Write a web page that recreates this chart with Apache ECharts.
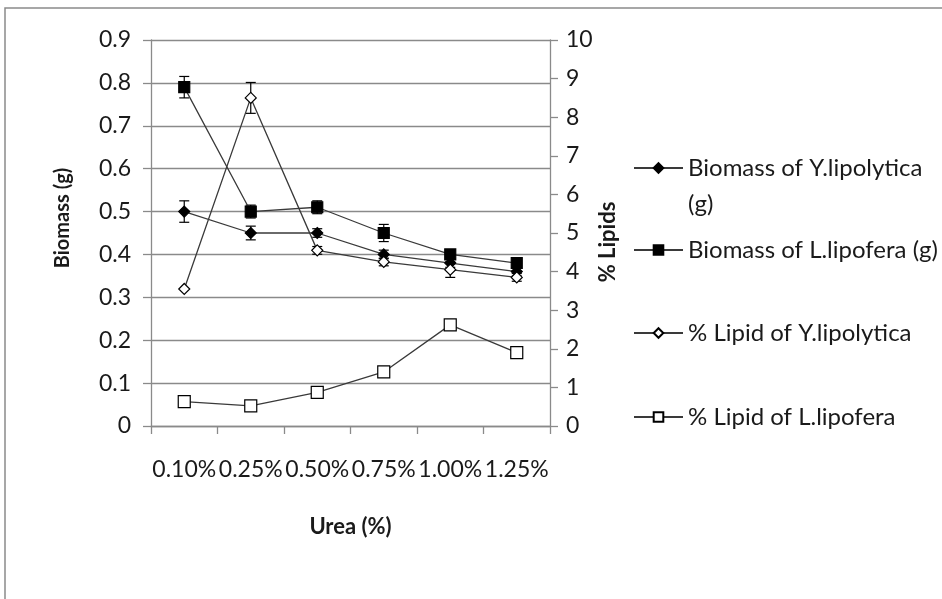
<!DOCTYPE html>
<html>
<head>
<meta charset="utf-8">
<title>Biomass and lipid content vs urea</title>
<script src="https://cdn.jsdelivr.net/npm/echarts@6/dist/echarts.min.js"></script>
<style>
  html, body { margin: 0; padding: 0; background: #ffffff; }
  #chart { width: 942px; height: 599px; }
</style>
</head>
<body>
<div id="chart"></div>
<script>
// Urea concentrations on the x axis
const categories = ['0.10%', '0.25%', '0.50%', '0.75%', '1.00%', '1.25%'];

// Biomass (g), left axis
const biomassY = [0.50, 0.45, 0.45, 0.40, 0.38, 0.36];
const biomassYErr = [0.025, 0.016, 0.01, 0.01, 0.01, 0.01];
const biomassL = [0.79, 0.50, 0.51, 0.45, 0.40, 0.38];
const biomassLErr = [0.025, 0.015, 0.015, 0.02, 0.01, 0.01];

// % lipids, right axis
const lipidY = [3.55, 8.5, 4.55, 4.25, 4.05, 3.85];
const lipidYErr = [0, 0.4, 0.1, 0.1, 0.2, 0.1];
const lipidL = [0.63, 0.52, 0.87, 1.40, 2.62, 1.90];

const seriesNames = [
  'Biomass of Y.lipolytica (g)',
  'Biomass of L.lipofera (g)',
  '% Lipid of Y.lipolytica',
  '% Lipid of L.lipofera'
];

const FONT = 'Lato';
const TEXT_COLOR = '#1a1a1a';
const GRID_COLOR = '#8a8a8a';
const LINE_COLOR = '#3a3a3a';

function errorBars(values, errs, yAxisIndex) {
  const data = values.map((v, i) => [i, v - errs[i], v + errs[i], errs[i]]);
  return {
    type: 'custom',
    yAxisIndex: yAxisIndex,
    silent: true,
    z: 1,
    encode: { x: 0, y: [1, 2] },
    data: data,
    renderItem: function (params, api) {
      if (!api.value(3)) return null;
      const idx = api.value(0);
      const lo = api.coord([idx, api.value(1)]);
      const hi = api.coord([idx, api.value(2)]);
      const hw = 5;
      const style = { stroke: '#000', lineWidth: 1.2 };
      return {
        type: 'group',
        children: [
          { type: 'line', shape: { x1: lo[0], y1: lo[1], x2: hi[0], y2: hi[1] }, style: style },
          { type: 'line', shape: { x1: hi[0] - hw, y1: hi[1], x2: hi[0] + hw, y2: hi[1] }, style: style },
          { type: 'line', shape: { x1: lo[0] - hw, y1: lo[1], x2: lo[0] + hw, y2: lo[1] }, style: style }
        ]
      };
    }
  };
}

function lineSeries(name, data, yAxisIndex, symbol, size, fill) {
  return {
    name: name,
    type: 'line',
    yAxisIndex: yAxisIndex,
    data: data,
    symbol: symbol,
    symbolSize: size,
    showAllSymbol: true,
    z: 3,
    lineStyle: { color: LINE_COLOR, width: 1.3 },
    itemStyle: { color: fill, borderColor: '#000', borderWidth: 1.2 },
    emphasis: { disabled: true }
  };
}

const legendText = { fontFamily: FONT, fontSize: 24, color: TEXT_COLOR, lineHeight: 30 };
function legendFor(name, top, extra) {
  return Object.assign({
    data: [name],
    left: 633,
    top: top,
    padding: 0,
    orient: 'vertical',
    itemWidth: 49,
    itemHeight: 12,
    itemGap: 0,
    selectedMode: false,
    textStyle: Object.assign({}, legendText)
  }, extra || {});
}

const chart = echarts.init(document.getElementById('chart'), null, { renderer: 'canvas' });

chart.setOption({
  animation: false,
  backgroundColor: '#ffffff',
  textStyle: { fontFamily: FONT },
  grid: { left: 151, right: 392, top: 40, bottom: 173, containLabel: false },
  legend: [
    // wrapped entry: a blank leading line keeps the first text line level with the marker
    legendFor(seriesNames[0], 114, {
      formatter: n => '\u00a0\n' + n.replace(' (g)', '\n(g)'),
      textStyle: Object.assign({}, legendText, { lineHeight: 36 })
    }),
    legendFor(seriesNames[1], 235),
    legendFor(seriesNames[2], 318),
    legendFor(seriesNames[3], 402)
  ],
  xAxis: {
    type: 'category',
    data: categories,
    boundaryGap: true,
    name: 'Urea (%)',
    nameLocation: 'middle',
    nameGap: 90,
    nameTextStyle: { fontFamily: FONT, fontSize: 22, fontWeight: 'bold', color: TEXT_COLOR },
    axisLine: { lineStyle: { color: GRID_COLOR, width: 1.3 } },
    axisTick: { show: true, interval: 0, length: 8, alignWithLabel: false, lineStyle: { color: GRID_COLOR, width: 1.3 } },
    axisLabel: { interval: 0, margin: 32, fontFamily: FONT, fontSize: 23, color: TEXT_COLOR },
    splitLine: { show: false }
  },
  yAxis: [
    {
      type: 'value',
      min: 0,
      max: 0.9,
      interval: 0.1,
      position: 'left',
      name: 'Biomass (g)',
      nameLocation: 'middle',
      nameRotate: 90,
      nameGap: 78,
      nameTextStyle: {
        fontFamily: FONT, fontSize: 20, fontWeight: 'bold', color: TEXT_COLOR,
        padding: [0, 0, 0, 30]
      },
      axisLine: { show: true, lineStyle: { color: GRID_COLOR, width: 1.3 } },
      axisTick: { show: true, length: 8, lineStyle: { color: GRID_COLOR, width: 1.3 } },
      axisLabel: {
        margin: 20,
        fontFamily: FONT,
        fontSize: 23,
        color: TEXT_COLOR,
        formatter: v => (Math.abs(v) < 1e-9 ? '0' : v.toFixed(1))
      },
      splitLine: { show: true, lineStyle: { color: GRID_COLOR, width: 1.3 } }
    },
    {
      type: 'value',
      min: 0,
      max: 10,
      interval: 1,
      position: 'right',
      name: '% Lipids',
      nameLocation: 'middle',
      nameRotate: 90,
      nameGap: 46,
      nameTextStyle: {
        fontFamily: FONT, fontSize: 22, fontWeight: 'bold', color: TEXT_COLOR,
        padding: [0, 18, 0, 0]
      },
      axisLine: { show: true, lineStyle: { color: GRID_COLOR, width: 1.3 } },
      axisTick: { show: true, length: 8, lineStyle: { color: GRID_COLOR, width: 1.3 } },
      axisLabel: { margin: 16, fontFamily: FONT, fontSize: 23, color: TEXT_COLOR },
      splitLine: { show: false }
    }
  ],
  series: [
    errorBars(biomassY, biomassYErr, 0),
    errorBars(biomassL, biomassLErr, 0),
    errorBars(lipidY, lipidYErr, 1),
    lineSeries(seriesNames[0], biomassY, 0, 'diamond', 11, '#000'),
    lineSeries(seriesNames[1], biomassL, 0, 'rect', 11, '#000'),
    lineSeries(seriesNames[2], lipidY, 1, 'diamond', 11, '#ffffff'),
    lineSeries(seriesNames[3], lipidL, 1, 'rect', 12, '#ffffff')
  ],
  graphic: [
    {
      type: 'rect',
      silent: true,
      z: -1,
      shape: { x: 5, y: 8, width: 960, height: 620 },
      style: { fill: 'none', stroke: '#8a8a8a', lineWidth: 1.5 }
    }
  ]
});
</script>
</body>
</html>
